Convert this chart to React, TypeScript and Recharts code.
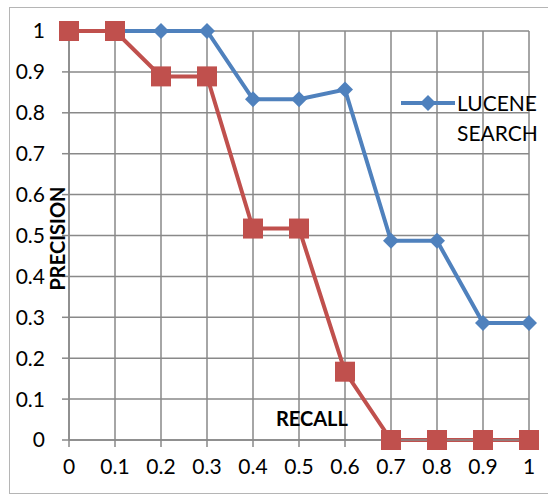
import React from 'react';
import { LineChart, Line, XAxis, YAxis, CartesianGrid, Legend } from 'recharts';

const recall = [0, 0.1, 0.2, 0.3, 0.4, 0.5, 0.6, 0.7, 0.8, 0.9, 1];
const luceneSearch = [1, 1, 1, 1, 0.833, 0.833, 0.857, 0.487, 0.487, 0.286, 0.286];
const otherSearch = [1, 1, 0.889, 0.889, 0.517, 0.517, 0.167, 0, 0, 0, 0];
const ticks = [0, 0.1, 0.2, 0.3, 0.4, 0.5, 0.6, 0.7, 0.8, 0.9, 1];

const data = recall.map((r, i) => ({ recall: r, lucene: luceneSearch[i], other: otherSearch[i] }));

const FONT = 'Lato, "DejaVu Sans", sans-serif';
const BLUE = '#4f81bd';
const RED = '#c0504d';
const GRID = '#898989';

const Square = (props: any) => {
  const { cx, cy } = props;
  if (cx == null || cy == null) return null;
  return <rect x={cx - 10} y={cy - 10} width={20} height={20} fill={RED} />;
};

const Diamond = (props: any) => {
  const { cx, cy } = props;
  if (cx == null || cy == null) return null;
  const s = 8;
  return <polygon points={`${cx},${cy - s} ${cx + s},${cy} ${cx},${cy + s} ${cx - s},${cy}`} fill={BLUE} />;
};

const LegendBox = () => (
  <div style={{ display: 'flex', alignItems: 'flex-start', width: 150, fontFamily: FONT, fontSize: 21, color: '#000' }}>
    <svg width={56} height={20} style={{ marginTop: 5, flexShrink: 0 }}>
      <line x1={1} y1={10} x2={55} y2={10} stroke={BLUE} strokeWidth={4} />
      <polygon points="28,2 36,10 28,18 20,10" fill={BLUE} />
    </svg>
    <div style={{ lineHeight: '30px', marginLeft: 1 }}>
      LUCENE<br />SEARCH
    </div>
  </div>
);

export default function App() {
  return (
    <div style={{ position: 'absolute', left: 0, top: 0, width: 548, height: 496, background: '#fff' }}>
      <div style={{ position: 'absolute', left: 9, top: 7, width: 540, height: 487, border: '1px solid #b5b5b5', boxSizing: 'border-box' }} />
      <div style={{ position: 'absolute', left: 0, top: 0 }}>
        <LineChart width={548} height={496} data={data} margin={{ top: 31, right: 19, bottom: 26, left: 0 }}>
          <CartesianGrid stroke={GRID} strokeWidth={1.5} />
          <XAxis
            dataKey="recall"
            type="number"
            domain={[0, 1]}
            ticks={ticks}
            height={30}
            tickSize={7}
            tickMargin={12}
            axisLine={{ stroke: GRID, strokeWidth: 1.5 }}
            tickLine={{ stroke: GRID, strokeWidth: 1.5 }}
            tick={{ fill: '#000', fontSize: 21, fontFamily: FONT }}
            interval={0}
            label={{
              content: (p: any) => {
                const vb = p.viewBox;
                return (
                  <text x={vb.x + vb.width * 0.528} y={vb.y - 14} textAnchor="middle" fontFamily={FONT} fontSize={20} fontWeight="bold" fill="#000">
                    RECALL
                  </text>
                );
              },
            }}
          />
          <YAxis
            type="number"
            domain={[0, 1]}
            ticks={ticks}
            width={69}
            tickSize={7}
            tickMargin={17}
            axisLine={{ stroke: GRID, strokeWidth: 1.5 }}
            tickLine={{ stroke: GRID, strokeWidth: 1.5 }}
            tick={{ fill: '#000', fontSize: 21, fontFamily: FONT }}
            interval={0}
            label={{
              content: (p: any) => {
                const vb = p.viewBox;
                const x = vb.x + vb.width - 4;
                const y = vb.y + vb.height / 2 + 3;
                return (
                  <text x={x} y={y} transform={`rotate(-90 ${x} ${y})`} textAnchor="middle" fontFamily={FONT} fontSize={20} fontWeight="bold" fill="#000">
                    PRECISION
                  </text>
                );
              },
            }}
          />
          <Legend
            verticalAlign="middle"
            align="right"
            layout="horizontal"
            wrapperStyle={{ left: 400, top: 88, width: 0, height: 0, overflow: 'visible' }}
            content={() => <LegendBox />}
          />
          <Line dataKey="lucene" name="LUCENE SEARCH" stroke={BLUE} strokeWidth={4} dot={<Diamond />} activeDot={false} isAnimationActive={false} />
          <Line dataKey="other" legendType="none" stroke={RED} strokeWidth={4} dot={<Square />} activeDot={false} isAnimationActive={false} />
        </LineChart>
      </div>
    </div>
  );
}
